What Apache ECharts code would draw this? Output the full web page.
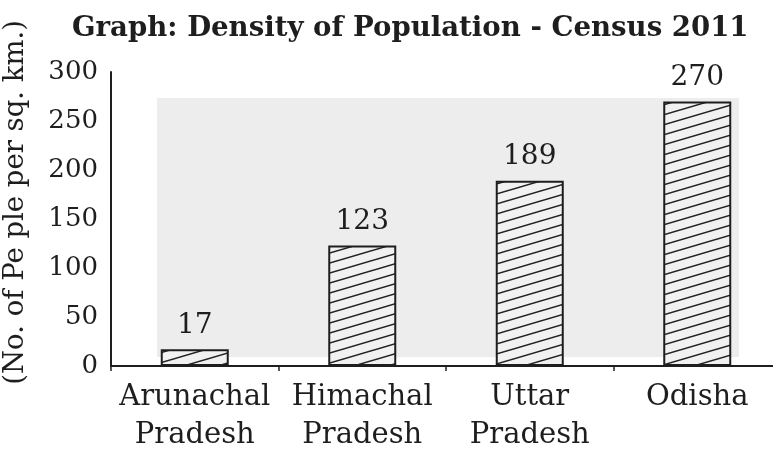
<!DOCTYPE html>
<html>
<head>
<meta charset="utf-8">
<script src="https://cdn.jsdelivr.net/npm/echarts@6/dist/echarts.min.js"></script>
<style>
  html, body { margin: 0; padding: 0; background: #fff; }
  #chart { width: 773px; height: 451px; }
</style>
</head>
<body>
<div id="chart"></div>
<script>
// data
const states = ['Arunachal\nPradesh', 'Himachal\nPradesh', 'Uttar\nPradesh', 'Odisha'];
const density = [17, 123, 189, 270];
const yTicks = [0, 50, 100, 150, 200, 250, 300];

const serif = '"DejaVu Serif", "Liberation Serif", serif';
const ink = '#1e1e1e';

// hatch pattern "////" for the bars
function makeHatch() {
  const w = 34, h = 10;
  const c = document.createElement('canvas');
  c.width = w; c.height = h;
  const ctx = c.getContext('2d');
  ctx.fillStyle = '#f1f1f1';
  ctx.fillRect(0, 0, w, h);
  ctx.strokeStyle = '#222';
  ctx.lineWidth = 1.5;
  ctx.beginPath();
  ctx.moveTo(-w, 2 * h); ctx.lineTo(2 * w, -h);
  ctx.moveTo(-w, 3 * h); ctx.lineTo(2 * w, 0);
  ctx.moveTo(-w, h); ctx.lineTo(2 * w, -2 * h);
  ctx.stroke();
  return c;
}

const myChart = echarts.init(document.getElementById('chart'));

const option = {
  animation: false,
  backgroundColor: '#fff',
  title: {
    text: 'Graph: Density of Population - Census 2011',
    left: 67,
    top: 10,
    textStyle: { fontFamily: serif, fontWeight: 'bold', fontSize: 27.6, color: ink }
  },
  grid: { left: 111, right: -8, top: 72, bottom: 85, outerBoundsMode: 'none' },
  graphic: [
    { // faint grey scan patch behind the plot
      type: 'rect', z: -10, silent: true,
      shape: { x: 157, y: 98, width: 582, height: 259 },
      style: { fill: '#ededed' }
    },
    {
      type: 'text', left: 2, top: 20, rotation: Math.PI / 2,
      style: {
        text: '(No. of Pe ple per sq. km.)',
        font: '27.5px ' + serif,
        fill: ink
      }
    }
  ],
  xAxis: {
    type: 'category',
    data: states,
    axisLine: { lineStyle: { color: ink, width: 2 } },
    axisTick: { show: true, alignWithLabel: false, length: 5, lineStyle: { color: ink, width: 1.5 } },
    axisLabel: {
      color: ink, fontFamily: serif, fontSize: 29, lineHeight: 38, margin: 12, interval: 0
    }
  },
  yAxis: {
    type: 'value',
    min: 0, max: 300, interval: 50,
    splitLine: { show: false },
    axisLine: { show: true, lineStyle: { color: ink, width: 2 } },
    axisTick: { show: false },
    axisLabel: {
      color: ink, fontFamily: serif, fontSize: 26, margin: 13,
      formatter: v => (yTicks.includes(v) ? String(v) : '')
    }
  },
  series: [{
    type: 'bar',
    data: density,
    barWidth: 68,
    itemStyle: {
      color: { image: makeHatch(), repeat: 'repeat' },
      borderColor: ink,
      borderWidth: 2
    },
    label: {
      show: true, position: 'top', distance: 10,
      color: ink, fontFamily: serif, fontSize: 28
    }
  }]
};

myChart.setOption(option);
</script>
</body>
</html>
